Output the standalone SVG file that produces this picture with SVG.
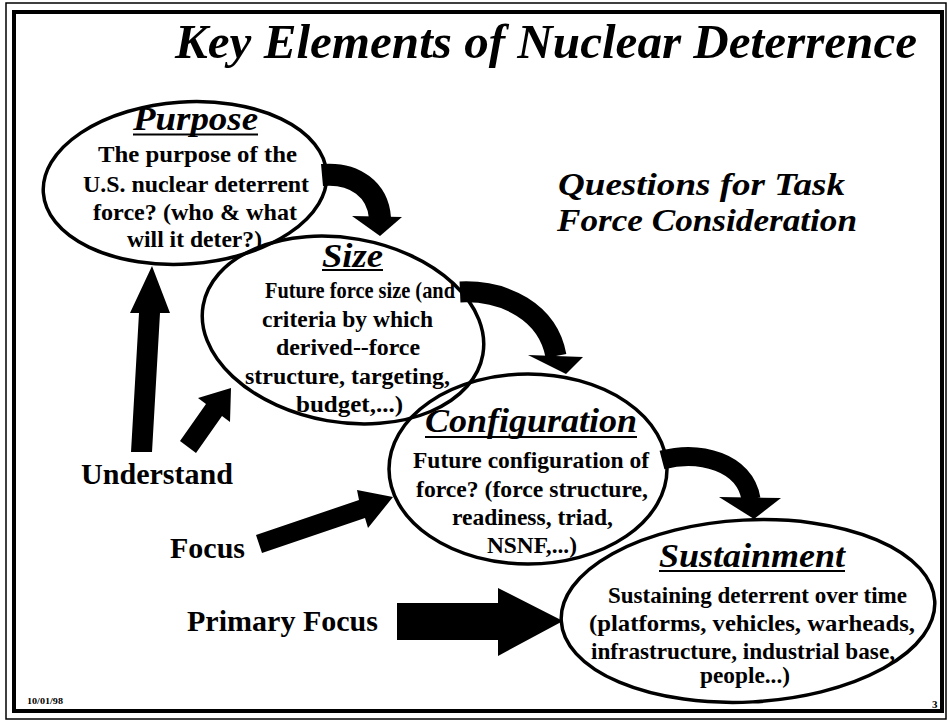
<svg xmlns="http://www.w3.org/2000/svg" width="948" height="725" viewBox="0 0 948 725">
<style>
.t{font-family:"Liberation Serif","Times New Roman",serif;font-weight:bold;fill:#000}
.hd{font-style:italic;font-size:34px}
.bd{font-size:23.5px;text-anchor:start}
.lb{font-size:30px}
.el{fill:none;stroke:#000;stroke-width:3.5}
.ul{stroke:#000;stroke-width:2}
.sh{fill:none;stroke:#000}
</style>
<rect width="948" height="725" fill="#fff"/>
<rect x="6" y="3" width="940" height="716" fill="none" stroke="#000" stroke-width="1.5"/>
<rect x="14" y="12" width="928" height="699" fill="none" stroke="#000" stroke-width="4"/>
<text class="t" x="175" y="58" font-size="49" font-style="italic" textLength="742" lengthAdjust="spacingAndGlyphs">Key Elements of Nuclear Deterrence</text>
<text class="t" x="558" y="195" font-size="31" font-style="italic" textLength="287" lengthAdjust="spacingAndGlyphs">Questions  for Task</text>
<text class="t" x="557" y="231" font-size="31" font-style="italic" textLength="300" lengthAdjust="spacingAndGlyphs">Force Consideration</text>
<g id="connectors">
<path class="sh" stroke-width="22" d="M322,175 C355,172 378,190 380,218"/>
<polygon points="352,216 402,217 380,236"/>
<path class="sh" stroke-width="21" d="M460,292 C505,290 548,312 556,356"/>
<polygon points="528,355 583,357 566,374"/>
<path class="sh" stroke-width="19" d="M662,460 C700,450 745,462 751,499"/>
<polygon points="719,497 781,498 754,519"/>
<polygon points="131,452 152,452 160,313 170,313 152,266 130,313 139,313"/>
<polygon points="180,441 196,453 222,416 230,422 231,388 198,398 206,404"/>
<polygon points="256,535 262,553 365,518 368,528 393,497 357,490 359,500"/>
<polygon points="397,603 498,603 498,588 563,621 498,656 498,640 397,640"/>
</g>
<g id="purpose">
<ellipse class="el" cx="185" cy="183" rx="142" ry="81" transform="rotate(-4 185 183)"/>
<text class="t hd" x="133" y="130" textLength="125" lengthAdjust="spacingAndGlyphs">Purpose</text>
<line class="ul" x1="133" y1="134.5" x2="258" y2="134.5"/>
<text class="t bd" x="98" y="162" textLength="199" lengthAdjust="spacingAndGlyphs">The  purpose of the</text>
<text class="t bd" x="83" y="192" textLength="226" lengthAdjust="spacingAndGlyphs">U.S. nuclear deterrent</text>
<text class="t bd" x="93" y="220" textLength="204" lengthAdjust="spacingAndGlyphs">force? (who &amp; what</text>
<text class="t bd" x="127" y="247" textLength="135" lengthAdjust="spacingAndGlyphs">will it deter?)</text>
</g>
<g id="size">
<ellipse class="el" cx="343" cy="330" rx="142" ry="92" transform="rotate(10 343 330)"/>
<text class="t hd" x="322" y="267" textLength="61" lengthAdjust="spacingAndGlyphs">Size</text>
<line class="ul" x1="322" y1="270" x2="383" y2="270"/>
<text class="t bd" x="265" y="298" textLength="190" lengthAdjust="spacingAndGlyphs">Future force size (and</text>
<text class="t bd" x="262" y="327" textLength="171" lengthAdjust="spacingAndGlyphs">criteria by which</text>
<text class="t bd" x="276" y="355" textLength="144" lengthAdjust="spacingAndGlyphs">derived--force</text>
<text class="t bd" x="245" y="384" textLength="205" lengthAdjust="spacingAndGlyphs">structure, targeting,</text>
<text class="t bd" x="296" y="412" textLength="107" lengthAdjust="spacingAndGlyphs">budget,...)</text>
</g>
<g id="configuration">
<ellipse class="el" cx="528" cy="469" rx="139" ry="95"/>
<text class="t hd" x="425" y="432" textLength="212" lengthAdjust="spacingAndGlyphs">Configuration</text>
<line class="ul" x1="425" y1="437" x2="637" y2="437"/>
<text class="t bd" x="413" y="468" textLength="236" lengthAdjust="spacingAndGlyphs">Future configuration of</text>
<text class="t bd" x="416" y="497" textLength="232" lengthAdjust="spacingAndGlyphs">force? (force structure,</text>
<text class="t bd" x="452" y="525" textLength="161" lengthAdjust="spacingAndGlyphs">readiness, triad,</text>
<text class="t bd" x="487" y="553" textLength="90" lengthAdjust="spacingAndGlyphs">NSNF,...)</text>
</g>
<g id="sustainment">
<ellipse class="el" cx="748" cy="611" rx="187" ry="91" transform="rotate(-3 748 611)"/>
<text class="t hd" x="659" y="567" textLength="186" lengthAdjust="spacingAndGlyphs">Sustainment</text>
<line class="ul" x1="659" y1="571" x2="845" y2="571"/>
<text class="t bd" x="608" y="603" textLength="299" lengthAdjust="spacingAndGlyphs">Sustaining deterrent over time</text>
<text class="t bd" x="589" y="631" textLength="326" lengthAdjust="spacingAndGlyphs">(platforms, vehicles, warheads,</text>
<text class="t bd" x="591" y="659" textLength="304" lengthAdjust="spacingAndGlyphs">infrastructure, industrial base,</text>
<text class="t bd" x="700" y="683" textLength="90" lengthAdjust="spacingAndGlyphs">people...)</text>
</g>
<g id="labels">
<text class="t lb" x="81" y="484" textLength="152" lengthAdjust="spacingAndGlyphs">Understand</text>
<text class="t lb" x="170" y="558" textLength="75" lengthAdjust="spacingAndGlyphs">Focus</text>
<text class="t lb" x="187" y="631" textLength="191" lengthAdjust="spacingAndGlyphs">Primary Focus</text>
</g>
<text class="t" x="27" y="704" font-size="7.5" textLength="36" lengthAdjust="spacingAndGlyphs">10/01/98</text>
<text class="t" x="932" y="708" font-size="11">3</text>
</svg>
